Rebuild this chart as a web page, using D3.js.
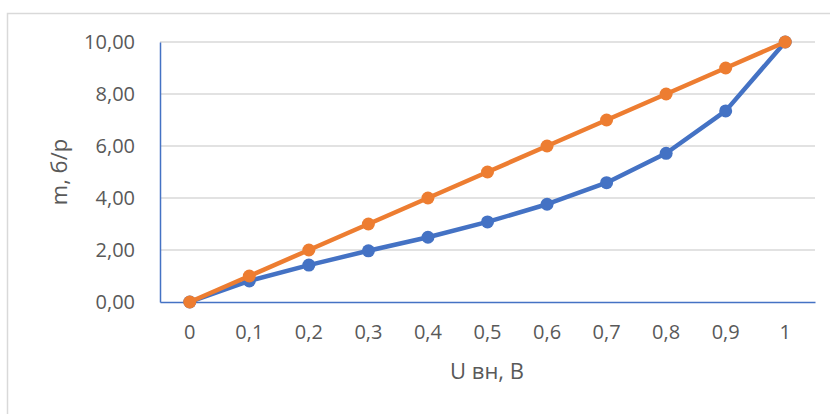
<!DOCTYPE html>
<html><head><meta charset="utf-8">
<script src="https://cdn.jsdelivr.net/npm/d3@7"></script>
<style>body{margin:0;background:#fff}svg{display:block}text{font-family:"Open Sans",sans-serif;fill:#595959}</style>
</head><body><svg id="c" width="830" height="414"></svg>
<script>
const categories = ["0","0,1","0,2","0,3","0,4","0,5","0,6","0,7","0,8","0,9","1"];
const seriesBlue = [0, 0.81, 1.42, 1.97, 2.49, 3.08, 3.76, 4.59, 5.72, 7.35, 10];
const seriesOrange = [0, 1, 2, 3, 4, 5, 6, 7, 8, 9, 10];
const yTicks = [0, 2, 4, 6, 8, 10];
const xTitle = "U вн, В";
const yTitle = "m, б/р";

const svg = d3.select("#c");
svg.append("rect").attr("x",7.5).attr("y",13.5).attr("width",840).attr("height",420)
  .attr("fill","none").attr("stroke","#d9d9d9").attr("stroke-width",1.5);

const L=160, R=815, T=42, B=302;
const x = d3.scaleBand().domain(categories).range([L,R]);
const y = d3.scaleLinear().domain([0,10]).range([B,T]);
const fmt = d => d3.format(".2f")(d).replace(".",",");

const g = svg.append("g");
g.selectAll("line.grid").data(yTicks.filter(d=>d>0)).join("line")
  .attr("x1",L).attr("x2",R).attr("y1",d=>y(d)).attr("y2",d=>y(d))
  .attr("stroke","#d9d9d9").attr("stroke-width",1.5);

const yAxis = g.append("g").attr("transform",`translate(${L},0)`)
  .call(d3.axisLeft(y).tickValues(yTicks).tickFormat(fmt).tickSize(0).tickPadding(25));
yAxis.attr("font-size",null).attr("font-family",null);
yAxis.select(".domain").attr("stroke","#4472C4").attr("stroke-width",1.5);
yAxis.selectAll("text").style("font-size","20px").style("fill","#595959");

const xAxis = g.append("g").attr("transform",`translate(0,${B})`)
  .call(d3.axisBottom(x).tickSize(0).tickPadding(23));
xAxis.attr("font-size",null).attr("font-family",null);
xAxis.select(".domain").attr("stroke","#4472C4").attr("stroke-width",1.5);
xAxis.selectAll("text").style("font-size","20px").style("fill","#595959");

const cx = d => x(d)+x.bandwidth()/2;
const line = d3.line().x((d,i)=>cx(categories[i])).y(d=>y(d));
[[seriesBlue,"#4472C4"],[seriesOrange,"#ED7D31"]].forEach(([s,c])=>{
  g.append("path").datum(s).attr("d",line).attr("fill","none").attr("stroke",c)
    .attr("stroke-width",4.5).attr("stroke-linejoin","round");
  g.selectAll(null).data(s).join("circle").attr("cx",(d,i)=>cx(categories[i])).attr("cy",d=>y(d))
    .attr("r",6.5).attr("fill",c);
});

svg.append("text").attr("x",487).attr("y",379).attr("text-anchor","middle")
  .style("font-size","22px").text(xTitle);
svg.append("text").attr("transform",`translate(67,172) rotate(-90)`).attr("text-anchor","middle")
  .style("font-size","22px").text(yTitle);
</script></body></html>
